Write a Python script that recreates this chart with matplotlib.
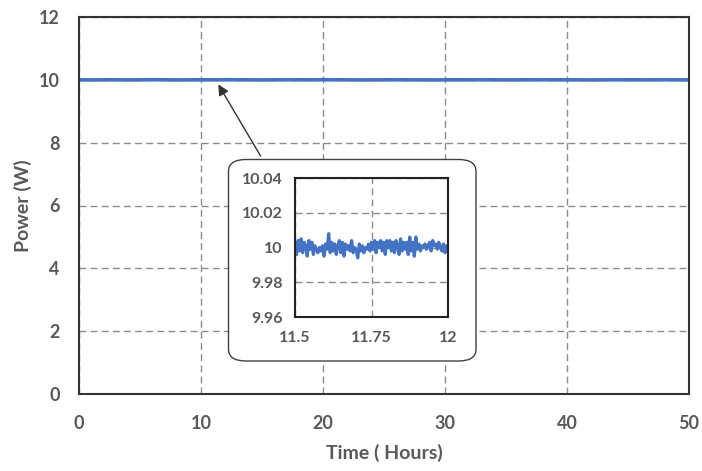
import numpy as np
import matplotlib
matplotlib.use("Agg")
import matplotlib.pyplot as plt
from matplotlib.patches import FancyBboxPatch

plt.rcParams['font.family'] = ['Lato', 'DejaVu Sans']

# main trace, one reading per hour
hours = list(range(0, 51))
power = [10.000, 9.996, 10.000, 10.002, 9.997, 10.000, 10.004, 10.001, 9.997, 10.000,
         10.001, 10.000, 10.004, 10.001, 10.000, 9.997, 10.000, 10.003, 10.001, 10.000,
         10.004, 10.002, 10.000, 9.997, 9.999, 10.000, 10.003, 10.000, 10.000, 9.997,
         10.000, 10.001, 10.000, 10.003, 10.000, 9.998, 10.000, 10.001, 10.003, 10.000,
         10.001, 10.000, 9.997, 10.000, 10.003, 10.001, 10.000, 10.000, 10.003, 10.000,
         9.998]

# zoomed window 11.5 - 12 h
zoom_power = [10.000, 9.996, 10.004, 9.998, 10.005, 9.997, 10.003, 10.001, 9.995, 10.004,
              9.999, 10.003, 9.996, 10.001, 9.999, 9.997, 10.000, 9.998, 10.001, 9.995,
              10.002, 9.999, 10.008, 9.997, 10.003, 9.998, 10.002, 9.996, 10.001, 10.004,
              9.997, 10.003, 9.995, 10.002, 9.999, 10.001, 9.998, 10.004, 9.997, 10.000,
              9.999, 9.994, 10.002, 9.998, 10.001, 9.997, 10.000, 9.999, 10.002, 9.998,
              10.003, 9.999, 10.004, 9.997, 10.003, 10.000, 10.004, 9.998, 10.003, 9.996,
              10.004, 10.000, 10.004, 9.998, 10.003, 9.997, 10.004, 10.001, 9.996, 10.005,
              9.998, 10.003, 9.999, 10.003, 9.996, 10.006, 9.998, 10.003, 9.995, 10.006,
              9.999, 10.002, 9.998, 10.001, 10.000, 10.002, 9.999, 10.001, 10.003, 9.998,
              10.004, 10.001, 10.002, 9.999, 10.003, 10.000, 9.998, 10.002, 9.997, 10.001,
              9.998]
zoom_time = np.linspace(11.5, 12.0, len(zoom_power))

blue = '#4472C4'
txt = '#595959'
grid_kw = dict(color='#8c8c8c', linestyle=(0, (5, 3)), linewidth=1.0)

fig = plt.figure(figsize=(7.02, 4.71), dpi=100)
ax = fig.add_axes([79/702, 1-394/471, 610/702, 377/471])
ax.plot(hours, power, color=blue, lw=2.6)
ax.set_xlim(0, 50)
ax.set_ylim(0, 12)
ax.set_xticks([0, 10, 20, 30, 40, 50])
ax.set_yticks([0, 2, 4, 6, 8, 10, 12])
ax.grid(True, **grid_kw)
ax.set_axisbelow(True)
ax.tick_params(length=0, labelsize=13, labelcolor=txt)
ax.tick_params(axis='x', pad=15)
ax.tick_params(axis='y', pad=14)
for lab in ax.get_xticklabels() + ax.get_yticklabels():
    lab.set_fontweight('bold')
for s in ax.spines.values():
    s.set_color('#333333')
    s.set_linewidth(1.5)
ax.set_xlabel('Time ( Hours)', fontsize=14, fontweight='bold', color=txt, labelpad=9)
ax.set_ylabel('Power (W)', fontsize=14, fontweight='bold', color=txt, labelpad=5)

# rounded box behind the inset
box = FancyBboxPatch((228.5/702, 1-361/471), (476-228.5)/702, (361-159.5)/471,
                     boxstyle='round,pad=0,rounding_size=0.025',
                     transform=fig.transFigure, facecolor='white',
                     edgecolor='#404040', linewidth=1.0, zorder=3)
fig.patches.append(box)

ax.annotate('', xy=(11.3, 9.93), xytext=(15.0, 7.5),
            arrowprops=dict(arrowstyle='-|>', color='#333333', lw=1.0,
                            mutation_scale=16), zorder=4)

ins = fig.add_axes([295/702, 1-317/471, 153/702, 139/471], zorder=5)
ins.plot(zoom_time, zoom_power, color=blue, lw=2.3)
ins.set_xlim(11.5, 12)
ins.set_ylim(9.96, 10.04)
ins.set_xticks([11.5, 11.75, 12])
ins.set_xticklabels(['11.5', '11.75', '12'])
ins.set_yticks([9.96, 9.98, 10.0, 10.02, 10.04])
ins.set_yticklabels(['9.96', '9.98', '10', '10.02', '10.04'])
ins.grid(True, **grid_kw)
ins.set_axisbelow(True)
ins.tick_params(length=0, labelsize=11.5, labelcolor=txt)
ins.tick_params(axis='x', pad=10)
ins.tick_params(axis='y', pad=9)
for lab in ins.get_xticklabels() + ins.get_yticklabels():
    lab.set_fontweight('bold')
for s in ins.spines.values():
    s.set_color('#222222')
    s.set_linewidth(1.5)

fig.savefig('out.png', dpi=100)
